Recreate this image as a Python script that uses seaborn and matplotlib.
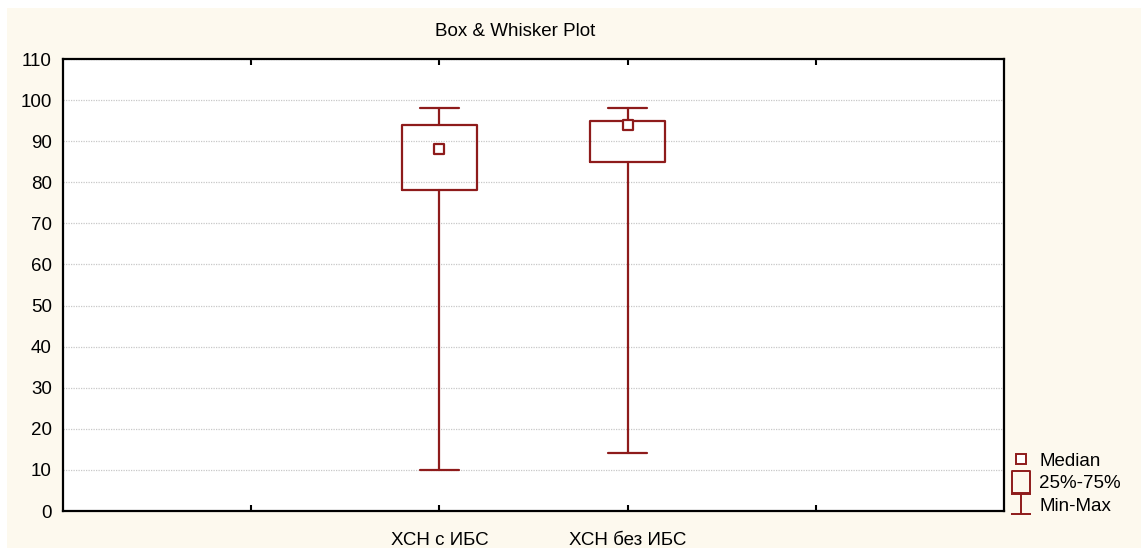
import matplotlib
matplotlib.use('Agg')
import matplotlib.pyplot as plt
import seaborn as sns
from matplotlib.lines import Line2D
from matplotlib.path import Path
from matplotlib.patches import Rectangle

# ---- data ----
groups = ['ХСН с ИБС', 'ХСН без ИБС']
positions = [2, 3]
mins = [10, 14]
q1 = [78, 85]
medians = [88, 94]
q3 = [94, 95]
maxs = [98, 98]
yticks = list(range(0, 111, 10))
xticks = [1, 2, 3, 4]
xticklabels = ['', groups[0], groups[1], '']
legend_labels = ['Median', '25%-75%', 'Min-Max']
title = 'Box & Whisker Plot'

RED = '#8e1b1b'

sns.set_style('white')
plt.rcParams['font.family'] = ['Liberation Sans', 'DejaVu Sans']
plt.rcParams['text.color'] = 'black'
plt.rcParams['xtick.color'] = 'black'
plt.rcParams['ytick.color'] = 'black'
plt.rcParams['xtick.labelcolor'] = 'black'
plt.rcParams['ytick.labelcolor'] = 'black'

W, H = 1141, 548
fig = plt.figure(figsize=(W / 100, H / 100), dpi=100)
fig.patch.set_facecolor('white')
fig.add_artist(Rectangle((7 / W, 0), 1 - 7 / W, (H - 8) / H, transform=fig.transFigure,
                         facecolor='#fdf9ee', edgecolor='none', zorder=-10))

ax = fig.add_axes([63 / W, (H - 511) / H, (1004 - 63) / W, (511 - 59) / H])
ax.set_facecolor('white')

stats = [dict(med=m, q1=a, q3=b, whislo=lo, whishi=hi, fliers=[], label=g)
         for g, lo, a, m, b, hi in zip(groups, mins, q1, medians, q3, maxs)]
ax.bxp(stats, positions=positions, widths=0.40, capwidths=0.205, showfliers=False,
       boxprops=dict(color=RED, linewidth=1.6),
       whiskerprops=dict(color=RED, linewidth=1.6),
       capprops=dict(color=RED, linewidth=1.6),
       medianprops=dict(linestyle='none'),
       manage_ticks=False, zorder=3)

sns.scatterplot(x=positions, y=medians, marker='s', s=50, color='white',
                edgecolor=RED, linewidth=1.6, zorder=5, ax=ax, legend=False)

ax.set_xlim(0, 5)
ax.set_ylim(0, 110)
ax.set_xticks(xticks)
ax.set_xticklabels(xticklabels, fontsize=13.5)
ax.set_yticks(yticks)
ax.set_yticklabels([str(v) for v in yticks], fontsize=13.5)
ax.tick_params(axis='x', direction='in', length=4, width=1.5, top=True, bottom=True,
               pad=15, color='black', labelcolor='black')
ax.tick_params(axis='y', direction='in', length=0, pad=8, labelcolor='black')
ax.yaxis.grid(True, linestyle=(0, (1, 1)), color='#c8c8c8', linewidth=0.9)
ax.xaxis.grid(False)
ax.set_axisbelow(True)
for s in ax.spines.values():
    s.set_visible(True)
    s.set_color('black')
    s.set_linewidth(1.6)

fig.text(515 / W, 1 - 32 / H, title, ha='center', va='center', fontsize=13.5, color='black')

rect_marker = Path([(-0.4, -0.5), (0.4, -0.5), (0.4, 0.5), (-0.4, 0.5), (-0.4, -0.5)],
                   [Path.MOVETO, Path.LINETO, Path.LINETO, Path.LINETO, Path.CLOSEPOLY])
ibeam = Path([(-0.5, 0.5), (0.5, 0.5), (0, 0.5), (0, -0.5), (-0.5, -0.5), (0.5, -0.5)],
             [Path.MOVETO, Path.LINETO, Path.MOVETO, Path.LINETO, Path.MOVETO, Path.LINETO])
handles = [
    Line2D([], [], ls='none', marker='s', ms=6.5, mfc='white', mec=RED, mew=1.4),
    Line2D([], [], ls='none', marker=rect_marker, ms=16, mfc='none', mec=RED, mew=1.4),
    Line2D([], [], ls='none', marker=ibeam, ms=14, mfc='none', mec=RED, mew=1.4),
]
leg = ax.legend(handles, legend_labels, loc='lower left', bbox_to_anchor=(1012 / W, 33 / H),
                bbox_transform=fig.transFigure, frameon=False, fontsize=13.5, handlelength=1.0,
                handletextpad=0.45, labelspacing=0.3, borderpad=0, borderaxespad=0)
for t in leg.get_texts():
    t.set_color('black')

fig.savefig('out.png', dpi=100, facecolor=fig.get_facecolor())
